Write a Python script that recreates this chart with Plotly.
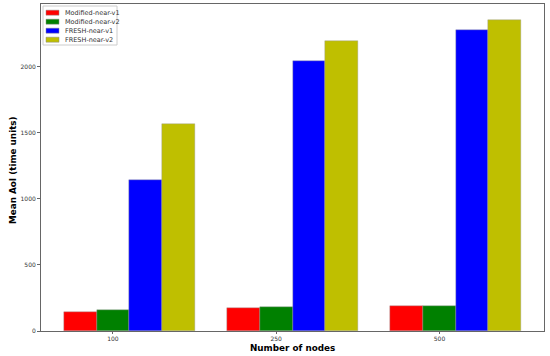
import plotly.graph_objects as go

nodes = ["100", "250", "500"]
series_names = ["Modified-near-v1", "Modified-near-v2", "FRESH-near-v1", "FRESH-near-v2"]
mod_v1 = [144, 174, 189]
mod_v2 = [159, 182, 189]
fresh_v1 = [1144, 2045, 2280]
fresh_v2 = [1568, 2197, 2356]
colors = ["#ff0000", "#008000", "#0000ff", "#bfbf00"]
y_ticks = [0, 500, 1000, 1500, 2000]
x_title = "Number of nodes"
y_title = "Mean AoI (time units)"

W, H = 550, 356
L, R, T, B = 41, 6, 4, 25
pw, ph = W - L - R, H - T - B

w = 0.2
offsets = [-w, 0, w, 2 * w]
base = list(range(len(nodes)))

fig = go.Figure()
for name, vals, col, off in zip(series_names, [mod_v1, mod_v2, fresh_v1, fresh_v2], colors, offsets):
    fig.add_trace(go.Bar(
        x=[b + off for b in base], y=vals, width=w, name=name, showlegend=False,
        marker=dict(color=col, line=dict(color="#999999", width=0.4)),
    ))

def px_x(p):
    return (p - L) / pw

def px_y(p):
    return (H - B - p) / ph

# compact legend (matplotlib-like)
shapes = [dict(type="rect", xref="paper", yref="paper",
               x0=px_x(43), x1=px_x(117), y0=px_y(45), y1=px_y(6),
               line=dict(color="#cccccc", width=1), fillcolor="rgba(255,255,255,0.8)", layer="above")]
annotations = []
for i, (name, col) in enumerate(zip(series_names, colors)):
    cy = 12.7 + 9 * i
    shapes.append(dict(type="rect", xref="paper", yref="paper",
                       x0=px_x(46), x1=px_x(59), y0=px_y(cy + 2.5), y1=px_y(cy - 2.5),
                       line=dict(color="#888888", width=0.5), fillcolor=col, layer="above"))
    annotations.append(dict(xref="paper", yref="paper", x=px_x(63), y=px_y(cy),
                            xanchor="left", yanchor="middle", text=name, showarrow=False,
                            font=dict(size=6.5, color="#333333")))

# axis titles
annotations.append(dict(xref="paper", yref="paper", x=px_x(292), y=px_y(347.5),
                        xanchor="center", yanchor="middle", text="<b>" + x_title + "</b>",
                        showarrow=False, font=dict(size=8.8, color="black")))
annotations.append(dict(xref="paper", yref="paper", x=px_x(13), y=px_y(170),
                        xanchor="center", yanchor="middle", text="<b>" + y_title + "</b>",
                        textangle=-90, showarrow=False, font=dict(size=8.8, color="black")))

fig.update_layout(
    width=W, height=H,
    margin=dict(l=L, r=R, t=T, b=B, autoexpand=False),
    plot_bgcolor="white", paper_bgcolor="white",
    font=dict(family="DejaVu Sans", size=6, color="#333333"),
    showlegend=False,
    bargap=0,
    shapes=shapes, annotations=annotations,
)
fig.update_xaxes(
    range=[-0.44, 2.64], tickmode="array", tickvals=base, ticktext=nodes,
    showgrid=False, zeroline=False, showline=True, linecolor="#666666", linewidth=1, mirror=True,
    ticks="outside", ticklen=2, tickcolor="#666666", automargin=False,
)
fig.update_yaxes(
    range=[0, 2477], tickmode="array", tickvals=y_ticks,
    showgrid=False, zeroline=False, showline=True, linecolor="#666666", linewidth=1, mirror=True,
    ticks="outside", ticklen=3, tickcolor="#666666", automargin=False,
)

fig.write_html("out.html", config={"displayModeBar": False},
               post_script="document.body.style.margin='0';document.body.style.overflow='hidden';")
